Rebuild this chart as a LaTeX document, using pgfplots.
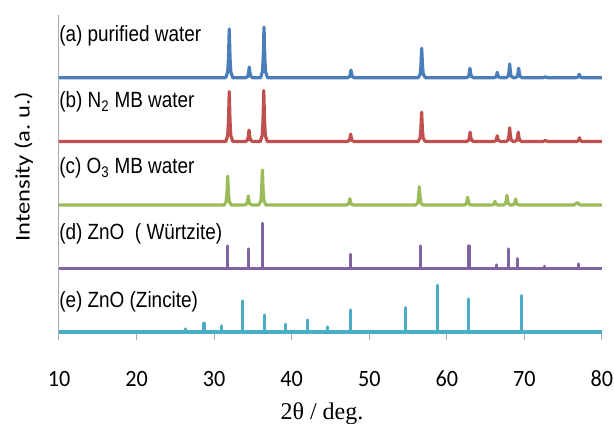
\documentclass[border=0pt]{standalone}
\usepackage{fontspec}
\setmainfont{Liberation Sans}
\newfontfamily\carlito{Carlito}
\newfontfamily\carlitonarrow[FakeStretch=0.95]{Carlito}
\newfontfamily\labfont[FakeStretch=0.86]{Liberation Sans}
\newfontfamily\seriffont{Liberation Serif}
\usepackage{graphicx}
\usepackage{pgfplots}
\pgfplotsset{compat=1.18}
\definecolor{sblue}{RGB}{74,126,187}
\definecolor{sred}{RGB}{192,80,77}
\definecolor{sgreen}{RGB}{155,187,89}
\definecolor{spurple}{RGB}{128,100,162}
\definecolor{steal}{RGB}{75,172,198}
\definecolor{axgray}{RGB}{170,170,170}

\begin{document}
\begin{tikzpicture}
\begin{axis}[
    scale only axis,
    width=407.25pt, height=237.75pt,
    xmin=10, xmax=80, ymin=0, ymax=317,
    axis lines*=left,
    axis line style={axgray, line width=0.75pt},
    xtick={10,20,...,80}, ytick=\empty,
    xtick align=outside, major tick length=5.75pt,
    tick style={axgray, line width=0.75pt},
    /pgf/number format/assume math mode=true,
    xticklabel style={font=\carlitonarrow\fontsize{17.5}{17.5}\selectfont,
        anchor=base, yshift=-35.5pt},
    clip=false,
    every axis plot/.append style={line width=2.4pt, line join=round},
]
% (a) purified water
\addplot[sblue] coordinates {
 (10,254.3)
 (31.50,254.3)(31.75,260.1)(31.85,273.8)(31.95,303.0)(32.05,273.8)(32.15,260.1)(32.40,254.3)
 (34.08,254.3)(34.33,255.6)(34.43,258.6)(34.53,265.0)(34.63,258.6)(34.73,255.6)(34.98,254.3)
 (35.98,254.3)(36.23,260.3)(36.33,274.5)(36.43,304.7)(36.53,274.5)(36.63,260.3)(36.88,254.3)
 (47.19,254.3)(47.44,255.2)(47.54,257.4)(47.64,262.0)(47.74,257.4)(47.84,255.2)(48.09,254.3)
 (56.31,254.3)(56.56,257.8)(56.66,266.1)(56.76,283.7)(56.86,266.1)(56.96,257.8)(57.21,254.3)
 (62.53,254.3)(62.78,255.4)(62.88,258.1)(62.98,263.7)(63.08,258.1)(63.18,255.4)(63.43,254.3)
 (66.05,254.3)(66.30,254.9)(66.40,256.5)(66.50,259.7)(66.60,256.5)(66.70,254.9)(66.95,254.3)
 (67.65,254.3)(67.90,255.9)(68.00,259.8)(68.10,268.0)(68.20,259.8)(68.30,255.9)(68.55,254.3)
 (68.81,254.3)(69.06,255.4)(69.16,258.1)(69.26,263.7)(69.36,258.1)(69.46,255.4)(69.71,254.3)
 (72.40,254.3)(72.70,255.1)(73.00,254.3)
 (76.62,254.3)(76.87,254.7)(76.97,255.7)(77.07,257.7)(77.17,255.7)(77.27,254.7)(77.52,254.3)
 (80,254.3)
};
% (b) N2 MB water
\addplot[sred] coordinates {
 (10,190.5)
 (31.50,190.5)(31.75,196.5)(31.85,210.5)(31.95,240.5)(32.05,210.5)(32.15,196.5)(32.40,190.5)
 (34.05,190.5)(34.30,191.9)(34.40,195.1)(34.50,201.9)(34.60,195.1)(34.70,191.9)(34.95,190.5)
 (35.95,190.5)(36.20,196.6)(36.30,210.9)(36.40,241.5)(36.50,210.9)(36.60,196.6)(36.85,190.5)
 (47.15,190.5)(47.40,191.4)(47.50,193.5)(47.60,197.9)(47.70,193.5)(47.80,191.4)(48.05,190.5)
 (56.30,190.5)(56.55,194.0)(56.65,202.3)(56.75,219.9)(56.85,202.3)(56.95,194.0)(57.20,190.5)
 (62.55,190.5)(62.80,191.6)(62.90,194.3)(63.00,199.9)(63.10,194.3)(63.20,191.6)(63.45,190.5)
 (66.05,190.5)(66.30,191.2)(66.40,192.8)(66.50,196.2)(66.60,192.8)(66.70,191.2)(66.95,190.5)
 (67.65,190.5)(67.90,192.1)(68.00,196.0)(68.10,204.2)(68.20,196.0)(68.30,192.1)(68.55,190.5)
 (68.75,190.5)(69.00,191.6)(69.10,194.3)(69.20,199.9)(69.30,194.3)(69.40,191.6)(69.65,190.5)
 (72.40,190.5)(72.70,191.5)(73.00,190.5)
 (76.65,190.5)(76.90,190.9)(77.00,192.0)(77.10,194.2)(77.20,192.0)(77.30,190.9)(77.55,190.5)
 (80,190.5)
};
% (c) O3 MB water
\addplot[sgreen] coordinates {
 (10,127)
 (31.30,127)(31.55,130.5)(31.65,138.6)(31.75,156.0)(31.85,138.6)(31.95,130.5)(32.20,127)
 (33.95,127)(34.20,128.1)(34.30,130.6)(34.40,136.0)(34.50,130.6)(34.60,128.1)(34.85,127)
 (35.77,127)(36.02,131.2)(36.12,141.0)(36.22,162.0)(36.32,141.0)(36.42,131.2)(36.67,127)
 (47.05,127)(47.30,127.8)(47.40,129.5)(47.50,133.3)(47.60,129.5)(47.70,127.8)(47.95,127)
 (56.00,127)(56.25,129.2)(56.35,134.3)(56.45,145.3)(56.55,134.3)(56.65,129.2)(56.90,127)
 (62.23,127)(62.48,127.9)(62.58,130.1)(62.68,134.7)(62.78,130.1)(62.88,127.9)(63.13,127)
 (65.75,127)(66.00,127.4)(66.10,128.5)(66.20,130.7)(66.30,128.5)(66.40,127.4)(66.65,127)
 (67.30,127)(67.55,128.2)(67.65,130.9)(67.75,136.7)(67.85,130.9)(67.95,128.2)(68.20,127)
 (68.42,127)(68.67,127.7)(68.77,129.4)(68.87,133.0)(68.97,129.4)(69.07,127.7)(69.32,127)
 (76.40,127)(76.80,129.3)(77.20,127)
 (80,127)
};
% (d) ZnO (Wurtzite) reference lines
\addplot[spurple] coordinates {
 (10,63.7)
 (31.77,63.7)(31.77,86.0)(31.77,63.7)
 (34.42,63.7)(34.42,83.0)(34.42,63.7)
 (36.25,63.7)(36.25,108.7)(36.25,63.7)
 (47.54,63.7)(47.54,77.7)(47.54,63.7)
 (56.60,63.7)(56.60,86.0)(56.60,63.7)
 (62.86,63.7)(62.86,86.0)(62.86,63.7)
 (66.38,63.7)(66.38,67.0)(66.38,63.7)
 (67.96,63.7)(67.96,83.0)(67.96,63.7)
 (69.10,63.7)(69.10,73.3)(69.10,63.7)
 (72.56,63.7)(72.56,65.7)(72.56,63.7)
 (76.95,63.7)(76.95,68.0)(76.95,63.7)
 (80,63.7)
};
% (e) ZnO (Zincite) reference lines
\addplot[steal] coordinates {
 (10,0)
 (26.27,0)(26.27,3.0)(26.27,0)
 (28.70,0)(28.70,8.7)(28.70,0)
 (30.97,0)(30.97,6.0)(30.97,0)
 (33.70,0)(33.70,31.0)(33.70,0)
 (36.53,0)(36.53,17.0)(36.53,0)
 (39.16,0)(39.16,7.7)(39.16,0)
 (41.99,0)(41.99,12.0)(41.99,0)
 (44.62,0)(44.62,5.0)(44.62,0)
 (47.60,0)(47.60,22.0)(47.60,0)
 (54.63,0)(54.63,24.3)(54.63,0)
 (58.82,0)(58.82,46.7)(58.82,0)
 (62.77,0)(62.77,33.0)(62.77,0)
 (69.64,0)(69.64,36.3)(69.64,0)
 (80,0)
};
\begin{scope}[every node/.style={anchor=base west, inner sep=0pt,
    font=\labfont\fontsize{16.5}{16.5}\selectfont}]
\node at (axis cs:10,290) {(a) purified water};
\node at (axis cs:10,224) {(b) N\textsubscript{2} MB water};
\node at (axis cs:10,158) {(c) O\textsubscript{3} MB water};
\node at (axis cs:10,92) {(d) ZnO\ \ ( Würtzite)};
\node at (axis cs:10,24) {(e) ZnO (Zincite)};
\end{scope}
\node[rotate=90, inner sep=0pt, font=\carlito\fontsize{18.4}{18.4}\selectfont]
    at (axis cs:5.46,165.3) {\scalebox{1}[0.85]{Intensity (a.\ u.)}};
\node[anchor=base, inner sep=0pt, font=\seriffont\fontsize{18}{18}\selectfont]
    at (axis cs:43.9,-88) {2θ / deg.};
\coordinate (bl) at (axis cs:2.394,-92);
\coordinate (tr) at (axis cs:81.55,332);
\end{axis}
\pgfresetboundingbox
\path[use as bounding box] (bl) rectangle (tr);
\end{tikzpicture}
\end{document}
